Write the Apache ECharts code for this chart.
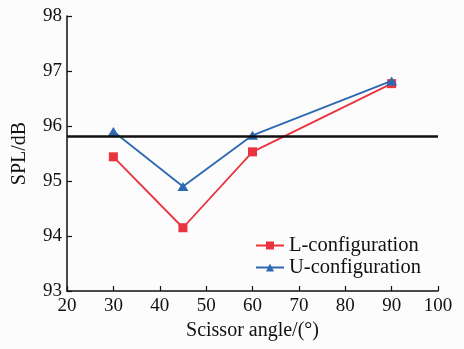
<!DOCTYPE html>
<html>
<head>
<meta charset="utf-8">
<script src="https://cdn.jsdelivr.net/npm/echarts@6/dist/echarts.min.js"></script>
<style>html,body{margin:0;padding:0;background:#fcfcfc;}#c{width:464px;height:349px;}</style>
</head>
<body>
<div id="c"></div>
<script>
const angles = [30, 45, 60, 90];
const lConfig = [95.44, 94.15, 95.53, 96.77];
const uConfig = [95.9, 94.9, 95.83, 96.82];
const referenceLevel = 95.82;
const seriesNames = ['L-configuration', 'U-configuration'];
const xTicks = {min: 20, max: 100, interval: 10};
const yTicks = {min: 93, max: 98, interval: 1};

const font = 'Liberation Serif';
const chart = echarts.init(document.getElementById('c'));
chart.setOption({
  backgroundColor: '#fcfcfc',
  animation: false,
  grid: {left: 67, right: 26, top: 16, bottom: 58},
  legend: {
    orient: 'vertical', left: 255, top: 235, padding: 0,
    itemWidth: 28, itemHeight: 10, itemGap: 1,
    textStyle: {fontFamily: font, fontSize: 20.5, color: '#111', lineHeight: 19, padding: [0, 0, 0, 0]},
    data: seriesNames
  },
  xAxis: {
    type: 'value', min: xTicks.min, max: xTicks.max, interval: xTicks.interval,
    name: 'Scissor angle/(°)', nameLocation: 'middle', nameGap: 26,
    nameTextStyle: {fontFamily: font, fontSize: 20, color: '#111'},
    axisLine: {lineStyle: {color: '#111', width: 1.5}},
    axisTick: {inside: true, length: 5, lineStyle: {color: '#111', width: 1.2}},
    axisLabel: {fontFamily: font, fontSize: 19, color: '#111', margin: 6},
    splitLine: {show: false}
  },
  yAxis: {
    type: 'value', min: yTicks.min, max: yTicks.max, interval: yTicks.interval,
    name: 'SPL/dB', nameLocation: 'middle', nameGap: 37,
    nameTextStyle: {fontFamily: font, fontSize: 20, color: '#111'},
    axisLine: {show: true, lineStyle: {color: '#111', width: 1.5}},
    axisTick: {show: true, inside: true, length: 5, lineStyle: {color: '#111', width: 1.2}},
    axisLabel: {fontFamily: font, fontSize: 19, color: '#111', margin: 5},
    splitLine: {show: false}
  },
  series: [
    {
      name: seriesNames[0], type: 'line',
      data: angles.map((a, i) => [a, lConfig[i]]),
      symbol: 'rect', symbolSize: 9,
      itemStyle: {color: '#e8343e'},
      lineStyle: {color: '#e8343e', width: 1.8},
      z: 3
    },
    {
      name: seriesNames[1], type: 'line',
      data: angles.map((a, i) => [a, uConfig[i]]),
      symbol: 'triangle', symbolSize: [11, 9],
      itemStyle: {color: '#2d68b2'},
      lineStyle: {color: '#2d68b2', width: 1.8},
      z: 4,
      markLine: {
        silent: true, symbol: 'none', label: {show: false},
        lineStyle: {color: '#111', width: 2.5, type: 'solid'},
        data: [{yAxis: referenceLevel}]
      }
    }
  ]
});
</script>
</body>
</html>
